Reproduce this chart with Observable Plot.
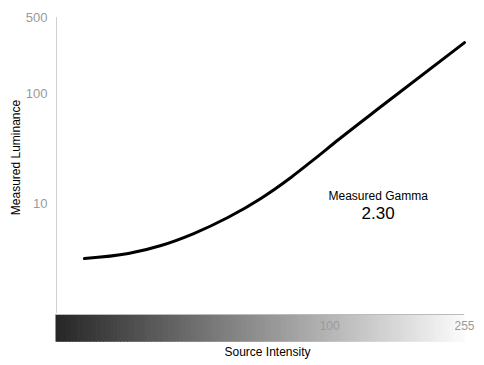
<!DOCTYPE html>
<html>
<head>
<meta charset="utf-8">
<script src="https://cdn.jsdelivr.net/npm/d3@7"></script>
<script src="https://cdn.jsdelivr.net/npm/@observablehq/plot@0.6"></script>
<style>
  html, body { margin: 0; padding: 0; background: #fff; }
  #chart { width: 484px; height: 365px; }
  svg { font-family: "Liberation Sans", Arial, sans-serif; overflow: visible; }
</style>
</head>
<body>
<div id="chart"></div>
<script>
// Source intensity (x) and measured luminance (y)
const intensity = [18.2, 24.7, 31.0, 38.9, 49.3, 62.0, 76.4, 89.5, 106.4, 145.5, 255];
const luminance = [3.17, 3.52, 4.17, 5.36, 7.50, 11.2, 17.4, 25.3, 38.6, 80.4, 295];
const yTicks = [10, 100, 500];
const xTicks = [100, 255];
const gammaLabel = "Measured Gamma";
const gammaValue = "2.30";
const gammaPos = {x: 140, yTitle: 11.7, yValue: 8.1};

const data = intensity.map((x, i) => ({x, y: luminance[i]}));

const xDomain = [15, 255];
// gradient strip stops along source intensity (log spaced)
const nStops = 120;
const lx0 = Math.log10(xDomain[0]), lx1 = Math.log10(xDomain[1]);
const stops = d3.range(nStops).map(i => {
  const t0 = i / nStops, t1 = (i + 1) / nStops;
  return {
    x1: Math.pow(10, lx0 + (lx1 - lx0) * t0),
    x2: Math.pow(10, lx0 + (lx1 - lx0) * t1),
    c: d3.interpolateRgb("#262626", "#fbfbfb")((t0 + t1) / 2)
  };
});

const chart = Plot.plot({
  width: 484,
  height: 365,
  marginTop: 17,
  marginBottom: 52,
  marginLeft: 56,
  marginRight: 20,
  style: {fontFamily: "Liberation Sans, Arial, sans-serif", background: "#fff", overflow: "visible"},
  x: {type: "log", domain: xDomain},
  y: {type: "log", domain: [1, 500], axis: null},
  marks: [
    Plot.rect(stops, {x1: "x1", x2: "x2", y1: 0.96, y2: 0.553, fill: "c", stroke: "c", strokeWidth: 1, inset: 0}),
    Plot.ruleY([1], {stroke: "#bbb", strokeWidth: 1, dy: 1}),
    Plot.ruleX([xDomain[0]], {y1: 1, y2: 500, stroke: "#d0d0d0", strokeWidth: 1}),
    Plot.text(yTicks, {x: xDomain[0], y: d => d, text: d => String(d), textAnchor: "end", dx: -9,
      fontSize: 13, fill: "#9a9a9a"}),
    Plot.axisX({ticks: xTicks, tickFormat: d => String(d), tickSize: 0, tickPadding: 8,
      fontSize: 12, color: "#9a9a9a", label: null}),
    Plot.text(["Source Intensity"], {frameAnchor: "bottom", dx: 7, dy: 42, fontSize: 12, fill: "#000"}),
    Plot.text(["Measured Luminance"], {frameAnchor: "left", textAnchor: "middle", rotate: -90, dx: -40, dy: -8, fontSize: 12, fill: "#000"}),
    Plot.line(data, {x: "x", y: "y", stroke: "#000", strokeWidth: 3, curve: "monotone-x"}),
    Plot.text([gammaLabel], {x: gammaPos.x, y: gammaPos.yTitle, fontSize: 12, fill: "#000"}),
    Plot.text([gammaValue], {x: gammaPos.x, y: gammaPos.yValue, fontSize: 17, fill: "#000"})
  ]
});
document.getElementById("chart").appendChild(chart);
</script>
</body>
</html>
